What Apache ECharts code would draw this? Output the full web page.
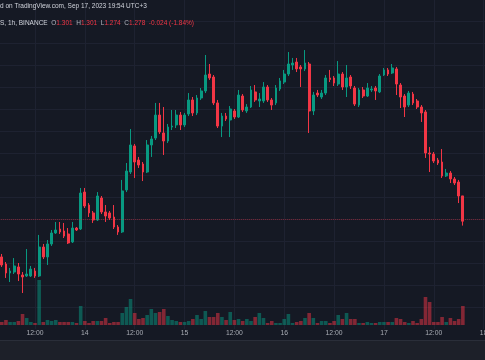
<!DOCTYPE html>
<html><head><meta charset="utf-8">
<script src="https://cdn.jsdelivr.net/npm/echarts/dist/echarts.min.js"></script>
<style>html,body{margin:0;padding:0;background:#151924;overflow:hidden}#c{width:485px;height:360px}</style>
</head><body><div id="c"></div>
<script>
// hour index counted from Sep 13, 00:00 (UTC+3), 1h candles
const hours = [4,5,6,7,8,9,10,11,12,13,14,15,16,17,18,19,20,21,22,23,24,25,26,27,28,29,30,31,32,33,34,35,36,37,38,39,40,41,42,43,44,45,46,47,48,49,50,51,52,53,54,55,56,57,58,59,60,61,62,63,64,65,66,67,68,69,70,71,72,73,74,75,76,77,78,79,80,81,82,83,84,85,86,87,88,89,90,91,92,93,94,95,96,97,98,99,100,101,102,103,104,105,106,107,108,109,110,111,112,113,114,115];
const opens = [1.2455,1.2391,1.2309,1.2318,1.2364,1.2291,1.2282,1.2282,1.2327,1.2282,
1.2545,1.2455,1.2573,1.2673,1.2709,1.2691,1.2664,1.2591,1.2718,1.2709,
1.3045,1.2927,1.2855,1.2791,1.2991,1.2864,1.2855,1.2818,1.2727,1.2682,
1.3064,1.3227,1.3464,1.3336,1.3300,1.3227,1.3473,1.3536,1.3745,1.3582,
1.3509,1.3636,1.3655,1.3745,1.3655,1.3755,1.3882,1.3764,1.3900,1.3964,
1.4118,1.4091,1.3855,1.3645,1.3736,1.3700,1.3782,1.3727,1.3918,1.3782,
1.3818,1.3955,1.3873,1.3873,1.4000,1.3882,1.3855,1.3982,1.4045,1.4118,
1.4200,1.4227,1.4182,1.4164,1.4209,1.3782,1.3945,1.3909,1.3945,1.4082,
1.4082,1.4027,1.4118,1.4000,1.4091,1.3991,1.3836,1.3973,1.3918,1.3973,
1.3991,1.3955,1.4109,1.4155,1.4127,1.4164,1.4018,1.3918,1.3836,1.3936,
1.3873,1.3818,1.3773,1.3400,1.3391,1.3336,1.3318,1.3191,1.3218,1.3164,
1.3136,1.301];
const closes = [1.2382,1.2309,1.2327,1.2373,1.2300,1.2273,1.2300,1.2345,1.2282,1.2545,
1.2455,1.2573,1.2673,1.2700,1.2682,1.2645,1.2582,1.2718,1.2700,1.3036,
1.2918,1.2855,1.2791,1.3009,1.2864,1.2827,1.2809,1.2727,1.2682,1.3055,
1.3236,1.3473,1.3318,1.3291,1.3227,1.3473,1.3527,1.3745,1.3591,1.3509,
1.3636,1.3645,1.3745,1.3655,1.3745,1.3882,1.3764,1.3900,1.3964,1.4109,
1.4082,1.3855,1.3645,1.3736,1.3709,1.3800,1.3727,1.3927,1.3791,1.3818,
1.3973,1.3882,1.3891,1.4000,1.3882,1.3836,1.3991,1.4055,1.4118,1.4209,
1.4218,1.4164,1.4164,1.4218,1.3782,1.3927,1.3927,1.3945,1.4082,1.4068,
1.4036,1.4118,1.4000,1.4082,1.4009,1.3845,1.3973,1.3918,1.3991,1.3982,
1.3964,1.4100,1.4155,1.4118,1.4173,1.4027,1.3909,1.3818,1.3945,1.3855,
1.3818,1.3764,1.3400,1.3391,1.3327,1.3309,1.3191,1.3218,1.3164,1.3127,
1.3009,1.278];
const lows = [1.2364,1.2264,1.2227,1.2300,1.2236,1.2127,1.2273,1.2273,1.2264,1.2273,
1.2436,1.2382,1.2555,1.2664,1.2664,1.2627,1.2573,1.2582,1.2691,1.2700,
1.2900,1.2818,1.2764,1.2782,1.2845,1.2773,1.2791,1.2709,1.2655,1.2673,
1.3045,1.3209,1.3173,1.3264,1.3145,1.3218,1.3364,1.3518,1.3573,1.3382,
1.3491,1.3609,1.3627,1.3609,1.3636,1.3736,1.3736,1.3745,1.3882,1.3945,
1.4064,1.3836,1.3627,1.3545,1.3691,1.3545,1.3709,1.3718,1.3773,1.3764,
1.3809,1.3864,1.3818,1.3855,1.3864,1.3791,1.3836,1.3964,1.4027,1.4100,
1.4155,1.4136,1.4000,1.4145,1.3582,1.3745,1.3909,1.3891,1.3927,1.4045,
1.4009,1.4009,1.3973,1.3909,1.3982,1.3827,1.3818,1.3900,1.3909,1.3955,
1.3882,1.3945,1.4100,1.4100,1.4118,1.3927,1.3809,1.3727,1.3818,1.3836,
1.3800,1.3682,1.3355,1.3227,1.3309,1.3291,1.3173,1.3182,1.3127,1.3109,
1.2945,1.274];
const highs = [1.2482,1.2409,1.2355,1.2445,1.2400,1.2318,1.2527,1.2373,1.2355,1.2655,
1.2573,1.2609,1.2700,1.2773,1.2773,1.2764,1.2718,1.2773,1.2727,1.3082,
1.3082,1.2945,1.2873,1.3045,1.3009,1.2927,1.2873,1.2927,1.2745,1.3155,
1.3309,1.3618,1.3482,1.3364,1.3318,1.3518,1.3555,1.3855,1.3855,1.3818,
1.3664,1.3791,1.3791,1.3773,1.3764,1.3945,1.3909,1.3927,1.3991,1.4291,
1.4209,1.4109,1.3882,1.3764,1.3764,1.3827,1.3800,1.3973,1.3936,1.3845,
1.4009,1.4018,1.3945,1.4045,1.4018,1.3900,1.4018,1.4082,1.4155,1.4318,
1.4264,1.4264,1.4200,1.4336,1.4227,1.3955,1.3973,1.3973,1.4109,1.4155,
1.4100,1.4236,1.4136,1.4200,1.4109,1.4009,1.3991,1.4000,1.4036,1.4009,
1.4009,1.4118,1.4173,1.4173,1.4209,1.4182,1.4036,1.3936,1.3964,1.3955,
1.3891,1.3836,1.3791,1.3455,1.3409,1.3355,1.3436,1.3255,1.3236,1.3182,
1.3155,1.301];
// volume, thousands
const volumes = [30,50,30,30,40,110,70,30,20,450,
30,50,40,50,30,30,30,30,20,190,
40,20,40,40,40,70,20,30,30,120,
180,260,120,60,70,100,160,120,130,160,
90,50,40,30,30,40,60,100,60,140,
80,80,120,80,50,130,50,60,40,60,
40,80,120,70,20,40,20,20,60,110,
20,30,40,70,120,70,20,40,40,20,
40,100,60,120,60,60,20,20,30,20,
20,30,30,30,30,70,60,30,20,40,
20,60,280,230,30,30,80,30,70,40,
60,190];
const lastClose = 1.278;
const tickHours = [12,24,36,48,60,72,84,96,108,120];
const tickLabels = ['12:00','14','12:00','15','12:00','16','12:00','17','12:00','18'];
const headerLine1 = 'd on TradingView.com, Sep 17, 2023 19:54 UTC+3';

const UP = '#089981', DOWN = '#f23645';
const candleData = hours.map((h, i) => [h, opens[i], closes[i], lows[i], highs[i]]);
const volData = hours.map((h, i) => ({
  value: [h, volumes[i]],
  itemStyle: {color: closes[i] >= opens[i] ? 'rgba(8,153,129,0.5)' : 'rgba(242,54,69,0.5)'}
}));

const chart = echarts.init(document.getElementById('c'), null, {renderer: 'canvas'});
const pxPerHour = 4.154;
const gridLeft = 35 - 12 * pxPerHour;
const gridWidth = 132 * pxPerHour;
const font = '"Liberation Sans", Arial, sans-serif';
chart.setOption({
  backgroundColor: '#151924',
  animation: false,
  title: [
    {text: headerLine1, left: 0, top: 3, padding: 0,
     textStyle: {fontSize: 6.5, fontWeight: 'normal', color: '#d1d4dc', fontFamily: font}},
    {text: '{g|S, 1h, BINANCE}  {k|O}{r|1.301}  {k|H}{r|1.301}  {k|L}{r|1.274}  {k|C}{r|1.278}  {r|-0.024 (-1.84%)}',
     left: 0, top: 20, padding: 0,
     textStyle: {fontSize: 6.5, fontWeight: 'normal', color: '#d1d4dc', fontFamily: font,
       rich: {
         g: {fontSize: 6.5, color: '#d1d4dc', fontFamily: font},
         k: {fontSize: 6.5, color: '#b2b5be', fontFamily: font},
         r: {fontSize: 6.5, color: '#f23645', fontFamily: font}
       }}}
  ],
  graphic: [
    {type: 'rect', shape: {x: 0, y: 340, width: 485, height: 20}, style: {fill: '#1d2029'}, z: -1},
    {type: 'line', shape: {x1: 0, y1: 340.5, x2: 485, y2: 340.5}, style: {stroke: '#2a2e39', lineWidth: 1}, z: -1}
  ],
  grid: [
    {left: gridLeft, top: -1, width: gridWidth, height: 330, outerBoundsMode: 'none', containLabel: false},
    {left: gridLeft, top: 225, width: gridWidth, height: 100, outerBoundsMode: 'none', containLabel: false}
  ],
  xAxis: [
    {type: 'value', gridIndex: 0, min: 0, max: 132, interval: 12,
     axisLine: {show: false}, axisTick: {show: false},
     splitLine: {show: true, lineStyle: {color: '#1e2231', width: 1}},
     axisLabel: {show: true, margin: 1, fontSize: 6.8, color: '#a9acb4', fontFamily: font, hideOverlap: false,
       formatter: v => { const k = tickHours.indexOf(Math.round(v)); return k >= 0 ? tickLabels[k] : ''; }}},
    {type: 'value', gridIndex: 1, min: 0, max: 132, interval: 12, show: false}
  ],
  yAxis: [
    {type: 'value', gridIndex: 0, min: 1.18, max: 1.48, interval: 0.02,
     axisLine: {show: false}, axisTick: {show: false}, axisLabel: {show: false},
     splitLine: {show: true, showMinLine: false, lineStyle: {color: '#1e2231', width: 1}}},
    {type: 'value', gridIndex: 1, min: 0, max: 1000, show: false, splitLine: {show: false}}
  ],
  series: [
    {type: 'bar', xAxisIndex: 1, yAxisIndex: 1, data: volData, barWidth: 3.6, silent: true},
    {type: 'candlestick', xAxisIndex: 0, yAxisIndex: 0, data: candleData,
     encode: {x: 0, y: [1, 2, 3, 4]},
     barWidth: 2.3,
     itemStyle: {color: UP, color0: DOWN, borderColor: UP, borderColor0: DOWN, borderWidth: 1},
     markLine: {symbol: 'none', silent: true, label: {show: false},
       lineStyle: {color: 'rgba(242,54,69,0.45)', type: 'dotted', width: 1},
       data: [{yAxis: lastClose}]}}
  ]
});
</script>
</body></html>
